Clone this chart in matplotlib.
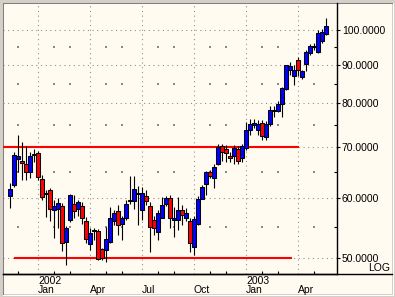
import numpy as np
import pandas as pd
import matplotlib
matplotlib.use('Agg')
import matplotlib.pyplot as plt
from matplotlib.patches import Rectangle
from matplotlib.lines import Line2D
from matplotlib.ticker import FixedLocator, NullFormatter

plt.rcParams['font.family'] = ['Liberation Sans', 'DejaVu Sans']

# ---- data (weekly bars) ----
week_start = pd.date_range('2001-11-12', periods=80, freq='W-MON')

opens = [60.3, 62.5, 67.5, 67.2, 66.6, 65.0, 68.5, 68.8, 63.6, 61.0,
         61.4, 57.8, 58.1, 58.6, 52.5, 56.2, 59.0, 58.1, 58.6, 56.0,
         52.1, 54.2, 54.2, 51.4, 51.3, 52.5, 55.9, 57.6, 55.5, 56.5,
         59.5, 59.4, 61.0, 57.9, 60.3, 58.6, 56.1, 54.1, 56.5, 58.9,
         60.1, 56.1, 56.1, 57.9, 56.5, 55.9, 51.7, 55.5, 59.9, 62.6,
         65.0, 63.7, 66.6, 70.3, 69.7, 68.2, 68.1, 69.7, 67.7, 69.8,
         73.8, 74.9, 73.9, 75.3, 72.3, 75.1, 78.2, 78.3, 79.8, 83.7,
         88.5, 87.0, 91.2, 86.7, 90.1, 93.2, 95.1, 93.6, 96.7, 98.9]
highs = [62.9, 69.0, 72.7, 71.1, 70.2, 69.0, 69.7, 69.2, 64.3, 61.5,
         61.9, 59.6, 60.0, 59.1, 55.1, 60.7, 60.6, 59.6, 59.3, 56.6,
         54.7, 54.7, 54.6, 51.6, 55.0, 58.4, 57.9, 58.7, 56.9, 59.6,
         64.1, 64.1, 62.3, 62.1, 61.5, 59.3, 56.8, 57.9, 60.2, 60.3,
         60.6, 58.4, 60.2, 58.7, 58.3, 56.4, 56.8, 60.3, 62.5, 65.2,
         65.3, 66.5, 70.7, 70.7, 70.5, 69.0, 70.5, 70.2, 70.7, 75.6,
         76.3, 76.3, 76.0, 76.0, 75.8, 79.4, 79.4, 80.6, 84.2, 90.0,
         90.8, 90.0, 92.2, 88.6, 94.1, 96.0, 96.2, 100.0, 100.3, 103.8]
lows = [58.2, 62.1, 65.0, 63.4, 63.4, 63.8, 67.0, 63.4, 59.6, 56.6,
        56.0, 53.2, 54.7, 51.1, 48.9, 55.8, 56.4, 56.8, 55.5, 52.3,
        51.2, 52.8, 49.7, 49.7, 49.4, 52.3, 55.2, 53.6, 52.8, 56.2,
        59.0, 58.1, 55.2, 56.1, 58.7, 51.0, 53.6, 52.8, 56.4, 58.5,
        54.7, 53.3, 54.4, 55.2, 55.9, 51.0, 50.5, 55.2, 59.8, 60.6,
        63.8, 61.8, 66.3, 67.1, 66.9, 67.0, 66.5, 66.5, 67.0, 69.4,
        72.7, 74.2, 72.7, 71.6, 71.6, 74.6, 76.8, 78.0, 76.8, 83.3,
        87.2, 84.5, 87.0, 86.2, 88.3, 92.7, 94.1, 93.4, 96.2, 98.4]
closes = [61.6, 68.4, 68.1, 66.8, 65.0, 68.2, 68.7, 64.0, 60.2, 60.7,
          58.1, 58.6, 59.1, 52.3, 54.8, 60.5, 57.7, 59.3, 56.5, 53.0,
          54.0, 54.4, 49.8, 50.0, 53.0, 56.4, 57.3, 55.2, 56.5, 59.0,
          59.6, 61.6, 60.7, 61.0, 59.4, 55.0, 54.8, 57.3, 58.8, 60.1,
          56.5, 56.5, 57.9, 57.0, 57.4, 52.4, 56.3, 59.9, 62.0, 65.0,
          64.1, 66.0, 70.0, 69.1, 68.8, 67.7, 69.8, 67.2, 70.4, 73.9,
          75.1, 75.3, 75.2, 72.4, 75.2, 78.4, 78.4, 79.9, 83.9, 89.8,
          89.6, 88.6, 88.5, 88.3, 93.7, 95.4, 95.4, 99.1, 99.3, 101.4]

resistance_level = 70.0
resistance_span = (-1.75, 72.3)   # bar positions
support_level = 50.0
support_span = (1.0, 70.4)

y_major = [50, 60, 70, 80, 90, 100]
y_minor = [55, 65, 75, 85, 95]
month_names = ['Jan', 'Feb', 'Mar', 'Apr', 'May', 'Jun',
               'Jul', 'Aug', 'Sep', 'Oct', 'Nov', 'Dec']

# ---- figure ----
W, H = 395, 297
fig = plt.figure(figsize=(W / 100, H / 100), dpi=100, facecolor='#d4d0c8')
cream = '#fffbf0'
fig.patches.append(Rectangle((3 / W, 3 / H), (W - 6) / W, (H - 6) / H,
                             transform=fig.transFigure, facecolor=cream,
                             edgecolor='none', zorder=-10))
for xs, ys, c in [([2.5, 2.5], [2.5, H - 2.5], '#808080'),
                  ([2.5, W - 2.5], [H - 2.5, H - 2.5], '#808080'),
                  ([2.5, W - 2.5], [2.5, 2.5], '#ffffff'),
                  ([W - 2.5, W - 2.5], [2.5, H - 2.5], '#ffffff')]:
    fig.lines.append(Line2D([x / W for x in xs], [y / H for y in ys],
                            transform=fig.transFigure, color=c, lw=0.75, zorder=-5))

ax_bottom_px = 273.5
ax = fig.add_axes([3 / W, (H - ax_bottom_px) / H, (337 - 3) / W, (ax_bottom_px - 3) / H])
ax.set_facecolor('none')
ax.set_yscale('log')
ax.set_ylim(47.7, 108.6)
ax.set_xlim(-1.75, 81.75)

# x ticks: bar whose week contains the 1st of a month
major_pos, major_lab, minor_pos = [], [], []
for i, d in enumerate(week_start):
    end = d + pd.Timedelta(days=6)
    if d.day == 1:
        m, yr = d.month, d.year
    elif end.month != d.month:
        m, yr = end.month, end.year
    else:
        continue
    if m in (1, 4, 7, 10):
        major_pos.append(i)
        major_lab.append(f'{yr}\n{month_names[m-1]}' if m == 1 else f'\n{month_names[m-1]}')
    else:
        minor_pos.append(i)

grid_kw = dict(color='#888888', lw=0.75, ls=(0, (1, 3.5)), zorder=0.5)
for v in y_major:
    ax.axhline(v, **grid_kw)
for p in major_pos:
    ax.axvline(p, **grid_kw)
gx, gy = np.meshgrid(minor_pos, y_minor)
ax.scatter(gx.ravel(), gy.ravel(), s=0.6, marker='s', color='#888888', lw=0, zorder=0.5)

# support / resistance
ax.hlines(resistance_level, *resistance_span, color='#ff0000', lw=1.5, zorder=2)
ax.hlines(support_level, *support_span, color='#ff0000', lw=1.5, zorder=2)

# candles
for i, (o, h, l, c) in enumerate(zip(opens, highs, lows, closes)):
    ax.vlines(i, l, h, color='black', lw=0.8, zorder=3)
    lo, hi = min(o, c), max(o, c)
    col = '#0000ff' if c >= o else '#ff0000'
    ax.add_patch(Rectangle((i - 0.45, lo), 0.9, hi - lo, facecolor=col,
                           edgecolor='black', lw=0.75, zorder=4))

# axes styling
for s in ('left', 'top'):
    ax.spines[s].set_visible(False)
ax.spines['right'].set_color('black')
ax.spines['right'].set_linewidth(1)
ax.spines['bottom'].set_color('black')
ax.spines['bottom'].set_linewidth(1)
fig.lines.append(Line2D([3 / W, 392 / W], [(H - ax_bottom_px) / H] * 2,
                        transform=fig.transFigure, color='black', lw=1))

ax.yaxis.tick_right()
ax.yaxis.set_major_locator(FixedLocator(y_major))
ax.yaxis.set_minor_locator(FixedLocator(y_minor))
ax.yaxis.set_minor_formatter(NullFormatter())
ax.set_yticklabels([f'{v:.4f}' for v in y_major])
ax.tick_params(axis='y', which='major', direction='out', length=2, width=0.8,
               pad=1.5, labelsize=7.5, colors='black')
ax.tick_params(axis='y', which='minor', direction='in', length=2, width=0.8)

ax.set_xticks(major_pos)
ax.set_xticklabels(major_lab)
ax.set_xticks(minor_pos, minor=True)
ax.tick_params(axis='x', which='major', length=0, pad=1.5, labelsize=7.5)
ax.tick_params(axis='x', which='minor', direction='in', length=2, width=0.8)
for lab in ax.get_xticklabels():
    lab.set_ha('left')
    lab.set_linespacing(0.95)

fig.text(390 / W, 1 - 268 / H, 'LOG', ha='right', va='center', fontsize=7.5)

fig.savefig('out.png', dpi=100, facecolor=fig.get_facecolor())
